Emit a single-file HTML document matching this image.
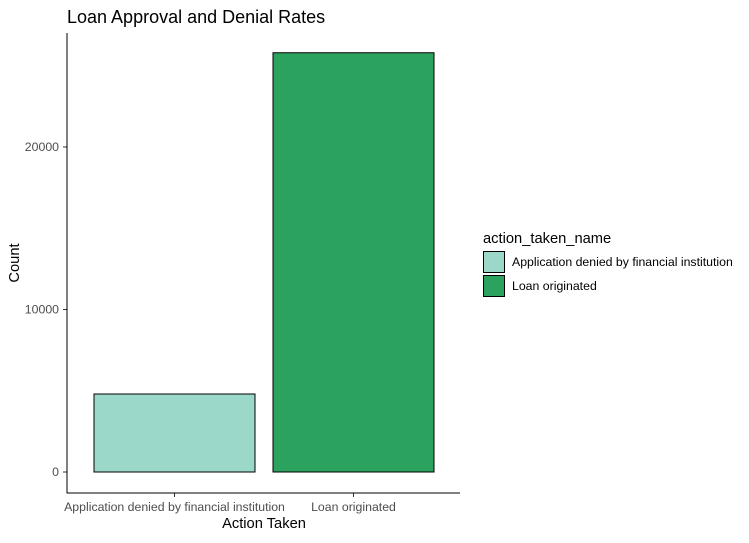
<!DOCTYPE html>
<html><head><meta charset="utf-8"><style>
html,body{margin:0;padding:0;background:#fff;}
svg text{font-family:"Liberation Sans",Arial,sans-serif;}
</style></head><body>
<svg id="chart" width="749" height="538" xmlns="http://www.w3.org/2000/svg">
<text x="67" y="23" font-size="18" fill="#000">Loan Approval and Denial Rates</text>
<g id="plot"></g>
<text x="264" y="528" font-size="14.7" text-anchor="middle" fill="#000">Action Taken</text>
<text transform="translate(19,263) rotate(-90)" font-size="14.7" text-anchor="middle" fill="#000">Count</text>
<g>
<text x="483" y="243" font-size="14.7" fill="#000">action_taken_name</text>
<g id="legend-items"></g>
</g>
</svg>
<script>
const categories = ["Application denied by financial institution", "Loan originated"];
const counts = [4800, 25800];
const colors = ["#9bd8c9", "#2ca25f"];
const yTicks = [0, 10000, 20000];

const svg = document.getElementById('plot');
const NS = "http://www.w3.org/2000/svg";
const x0 = 67, x1 = 460, yAxisBottom = 493, yAxisTop = 33;
const y = v => 472 - v * (472 - 147) / 20000;
function mk(tag, attrs){const e=document.createElementNS(NS,tag);for(const k in attrs)e.setAttribute(k,attrs[k]);return e;}

const step = 179, bw = 161, firstC = 174.5;
categories.forEach((c,i)=>{
  const cx = firstC + i*step;
  const r = mk('rect',{x:cx-bw/2,y:y(counts[i]),width:bw,height:y(0)-y(counts[i]),fill:colors[i],stroke:'#000','stroke-width':1});
  
  
  svg.appendChild(r);
  const t = mk('line',{x1:cx,x2:cx,y1:yAxisBottom,y2:yAxisBottom+4,stroke:'#333'});
  
  
  svg.appendChild(t);
  const l = mk('text',{x:cx,y:511,'font-size':12.3,'text-anchor':'middle',fill:'#4d4d4d'});
  l.textContent = c;
  
  
  svg.appendChild(l);
});
yTicks.forEach(v=>{
  const t = mk('line',{x1:63,x2:67,y1:y(v),y2:y(v),stroke:'#333'});
  
  
  svg.appendChild(t);
  const l = mk('text',{x:59,y:y(v)+4,'font-size':12.3,'text-anchor':'end',fill:'#4d4d4d'});
  l.textContent = v;
  
  
  svg.appendChild(l);
});
const ax = mk('path',{d:`M${x0} ${yAxisTop} V${yAxisBottom} H${x1}`,fill:'none',stroke:'#000','stroke-width':1});


svg.appendChild(ax);

const lg = document.getElementById('legend-items');
categories.forEach((c,i)=>{
  const r = mk('rect',{x:483.5,y:251.5+i*24,width:21,height:21,fill:colors[i],stroke:'#000'});
  
  
  lg.appendChild(r);
  const t = mk('text',{x:512,y:266+i*24,'font-size':12.3,fill:'#000'});
  t.textContent = c;
  
  
  lg.appendChild(t);
});
</script>
</body></html>
